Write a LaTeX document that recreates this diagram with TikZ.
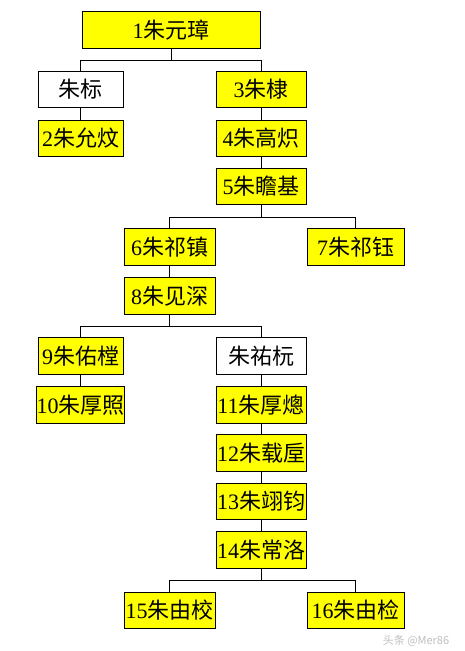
\documentclass[tikz,border=0pt]{standalone}
\usepackage{fontspec}
\setmainfont{Liberation Serif}
\newfontfamily\cjk{Noto Sans CJK SC}
\usepackage{xcolor}
\usepackage{tikz}
\definecolor{ruleryellow}{HTML}{FFFF00}
\tikzset{
    Person/.style = {draw,line width=0.8pt,inner sep=0pt,minimum height=36.5pt,
                     font=\fontsize{22}{24}\selectfont},
    Ruler/.style = {Person,fill=ruleryellow},
    Link/.style = {line width=0.8pt}
}

\begin{document}
\begin{tikzpicture}[x=1pt,y=-1pt]
        \useasboundingbox[fill=white] (0,0) rectangle (465,651);
        % generation by generation
        \node[Ruler,minimum width=178pt] (N1) at (171,30) {1\cjk 朱元璋};
        \node[Person,minimum width=85pt] (Biao) at (80.5,89.5) {\cjk 朱标};
        \node[Ruler,minimum width=90pt] (N3) at (261,89.5) {3\cjk 朱棣};
        \node[Ruler,minimum width=85pt] (N2) at (80.5,138.5) {2\cjk 朱允炆};
        \node[Ruler,minimum width=90pt] (N4) at (261,138.5) {4\cjk 朱高炽};
        \node[Ruler,minimum width=90pt] (N5) at (261,186.5) {5\cjk 朱瞻基};
        \node[Ruler,minimum width=91pt] (N6) at (169.5,247) {6\cjk 朱祁镇};
        \node[Ruler,minimum width=97pt] (N7) at (355.5,247) {7\cjk 朱祁钰};
        \node[Ruler,minimum width=91pt] (N8) at (169.5,296) {8\cjk 朱见深};
        \node[Ruler,minimum width=85pt] (N9) at (80.5,356) {9\cjk 朱佑樘};
        \node[Person,minimum width=90pt] (Yuyuan) at (261,356) {\cjk 朱祐杬};
        \node[Ruler,minimum width=85pt] (N10) at (80.5,405) {10\cjk 朱厚照};
        \node[Ruler,minimum width=90pt] (N11) at (261,405) {11\cjk 朱厚熜};
        \node[Ruler,minimum width=90pt] (N12) at (261,453) {12\cjk 朱载垕};
        \node[Ruler,minimum width=90pt] (N13) at (261,501.5) {13\cjk 朱翊钧};
        \node[Ruler,minimum width=90pt] (N14) at (261,550) {14\cjk 朱常洛};
        \node[Ruler,minimum width=91pt] (N15) at (169.5,610.5) {15\cjk 朱由校};
        \node[Ruler,minimum width=97pt] (N16) at (355.5,610.5) {16\cjk 朱由检};
        % branching
        \foreach \P/\A/\B in {N1/Biao/N3,N5/N6/N7,N8/N9/Yuyuan,N14/N15/N16}
            {\draw[Link] (\A.north) |- ([yshift=-12pt]\P.south) -| (\B.north);
             \draw[Link] (\P.south) -- ++(0,12);}
        % straight lines
        \foreach \A/\B in {Biao/N2,N3/N4,N4/N5,N6/N8,N9/N10,Yuyuan/N11,N11/N12,N12/N13,N13/N14}
            {\draw[Link] (\A.south) -- (\B.north);}
        \node[text=black!25,font=\cjk\fontsize{11}{12}\selectfont] (Mark) at (416,641) {头条 @Mer86};
\end{tikzpicture}
\end{document}
